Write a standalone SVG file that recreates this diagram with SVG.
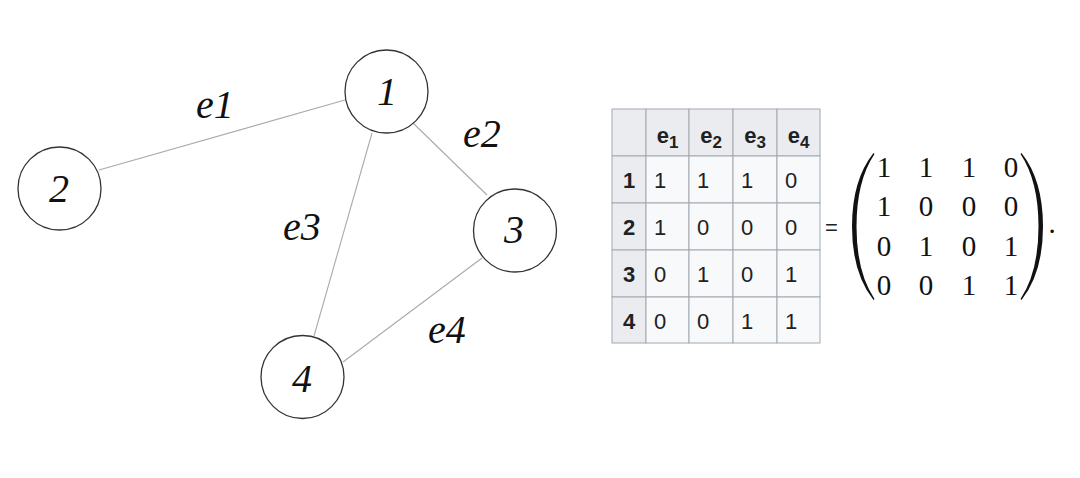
<svg xmlns="http://www.w3.org/2000/svg" width="1080" height="478" viewBox="0 0 1080 478">
<style>
.node{fill:#fff;stroke:#333;stroke-width:1.3}
.nl{font-family:"Liberation Serif",serif;font-size:40px;font-style:italic;text-anchor:middle;fill:#111}
.el{font-family:"Liberation Serif",serif;font-size:40px;font-style:italic;fill:#111}
.edge{stroke:#aaa;stroke-width:1.1;fill:none}
.th{fill:#eaecf0;stroke:#a2a9b1;stroke-width:1}
.td{fill:#f8f9fa;stroke:#a2a9b1;stroke-width:1}
.tht{font-family:"Liberation Sans",sans-serif;font-size:22px;font-weight:bold;fill:#202122;text-anchor:middle}
.tdt{font-family:"Liberation Sans",sans-serif;font-size:22px;fill:#202122}
.mt{font-family:"Liberation Serif",serif;font-size:29px;fill:#111;text-anchor:middle}
.par{fill:#111}
</style>
<rect width="1080" height="478" fill="#fff"/>
<g id="connectors">
<line class="edge" x1="99" y1="170" x2="345" y2="100"/>
<line class="edge" x1="413" y1="123" x2="487" y2="195"/>
<line class="edge" x1="372" y1="133" x2="314" y2="336"/>
<line class="edge" x1="482" y1="258" x2="343" y2="362"/>
<text class="el" x="196" y="118">e1</text>
<text class="el" x="463" y="147">e2</text>
<text class="el" x="283" y="240">e3</text>
<text class="el" x="428" y="343">e4</text>
</g>
<g id="node1"><circle class="node" cx="386.5" cy="91.5" r="41.5"/><text class="nl" x="387" y="105">1</text></g>
<g id="node2"><circle class="node" cx="59.5" cy="188.5" r="41.5"/><text class="nl" x="59" y="202" font-style="normal">2</text></g>
<g id="node3"><circle class="node" cx="515" cy="230.5" r="41.5"/><text class="nl" x="514" y="243">3</text></g>
<g id="node4"><circle class="node" cx="302.5" cy="377" r="41.5"/><text class="nl" x="302" y="392">4</text></g>
<g id="table">
<rect class="th" x="612" y="109" width="34" height="47"/>
<rect class="th" x="646" y="109" width="43" height="47"/>
<rect class="th" x="689" y="109" width="44" height="47"/>
<rect class="th" x="733" y="109" width="44" height="47"/>
<rect class="th" x="777" y="109" width="43" height="47"/>
<rect class="th" x="612" y="156" width="34" height="47"/>
<rect class="th" x="612" y="203" width="34" height="47"/>
<rect class="th" x="612" y="250" width="34" height="47"/>
<rect class="th" x="612" y="297" width="34" height="46"/>
<g>
<rect class="td" x="646" y="156" width="43" height="47"/><rect class="td" x="689" y="156" width="44" height="47"/><rect class="td" x="733" y="156" width="44" height="47"/><rect class="td" x="777" y="156" width="43" height="47"/>
<rect class="td" x="646" y="203" width="43" height="47"/><rect class="td" x="689" y="203" width="44" height="47"/><rect class="td" x="733" y="203" width="44" height="47"/><rect class="td" x="777" y="203" width="43" height="47"/>
<rect class="td" x="646" y="250" width="43" height="47"/><rect class="td" x="689" y="250" width="44" height="47"/><rect class="td" x="733" y="250" width="44" height="47"/><rect class="td" x="777" y="250" width="43" height="47"/>
<rect class="td" x="646" y="297" width="43" height="46"/><rect class="td" x="689" y="297" width="44" height="46"/><rect class="td" x="733" y="297" width="44" height="46"/><rect class="td" x="777" y="297" width="43" height="46"/>
</g>
<text class="tht" x="667.5" y="143">e<tspan font-size="17" dy="5">1</tspan></text>
<text class="tht" x="711" y="143">e<tspan font-size="17" dy="5">2</tspan></text>
<text class="tht" x="755" y="143">e<tspan font-size="17" dy="5">3</tspan></text>
<text class="tht" x="798.5" y="143">e<tspan font-size="17" dy="5">4</tspan></text>
<text class="tht" x="629" y="188">1</text>
<text class="tht" x="629" y="235">2</text>
<text class="tht" x="629" y="282">3</text>
<text class="tht" x="629" y="329">4</text>
<text class="tdt" x="654" y="188">1</text><text class="tdt" x="697" y="188">1</text><text class="tdt" x="741" y="188">1</text><text class="tdt" x="785" y="188">0</text>
<text class="tdt" x="654" y="235">1</text><text class="tdt" x="697" y="235">0</text><text class="tdt" x="741" y="235">0</text><text class="tdt" x="785" y="235">0</text>
<text class="tdt" x="654" y="282">0</text><text class="tdt" x="697" y="282">1</text><text class="tdt" x="741" y="282">0</text><text class="tdt" x="785" y="282">1</text>
<text class="tdt" x="654" y="329">0</text><text class="tdt" x="697" y="329">0</text><text class="tdt" x="741" y="329">1</text><text class="tdt" x="785" y="329">1</text>
</g>
<g id="matrix">
<text class="tdt" x="825" y="235">=</text>
<path class="par" d="M873.5,153 Q852,180 852,226.5 Q852,273 873.5,300 L874.5,299 Q856.5,272 856.5,226.5 Q856.5,181 874.5,154 Z"/>
<path class="par" d="M1021.5,153 Q1043,180 1043,226.5 Q1043,273 1021.5,300 L1020.5,299 Q1038.5,272 1038.5,226.5 Q1038.5,181 1020.5,154 Z"/>
<text class="mt" x="884" y="177">1</text><text class="mt" x="926" y="177">1</text><text class="mt" x="969" y="177">1</text><text class="mt" x="1011" y="177">0</text>
<text class="mt" x="884" y="216">1</text><text class="mt" x="926" y="216">0</text><text class="mt" x="969" y="216">0</text><text class="mt" x="1011" y="216">0</text>
<text class="mt" x="884" y="256">0</text><text class="mt" x="926" y="256">1</text><text class="mt" x="969" y="256">0</text><text class="mt" x="1011" y="256">1</text>
<text class="mt" x="884" y="295">0</text><text class="mt" x="926" y="295">0</text><text class="mt" x="969" y="295">1</text><text class="mt" x="1011" y="295">1</text>
<text class="mt" x="1052" y="233">.</text>
</g>
</svg>
